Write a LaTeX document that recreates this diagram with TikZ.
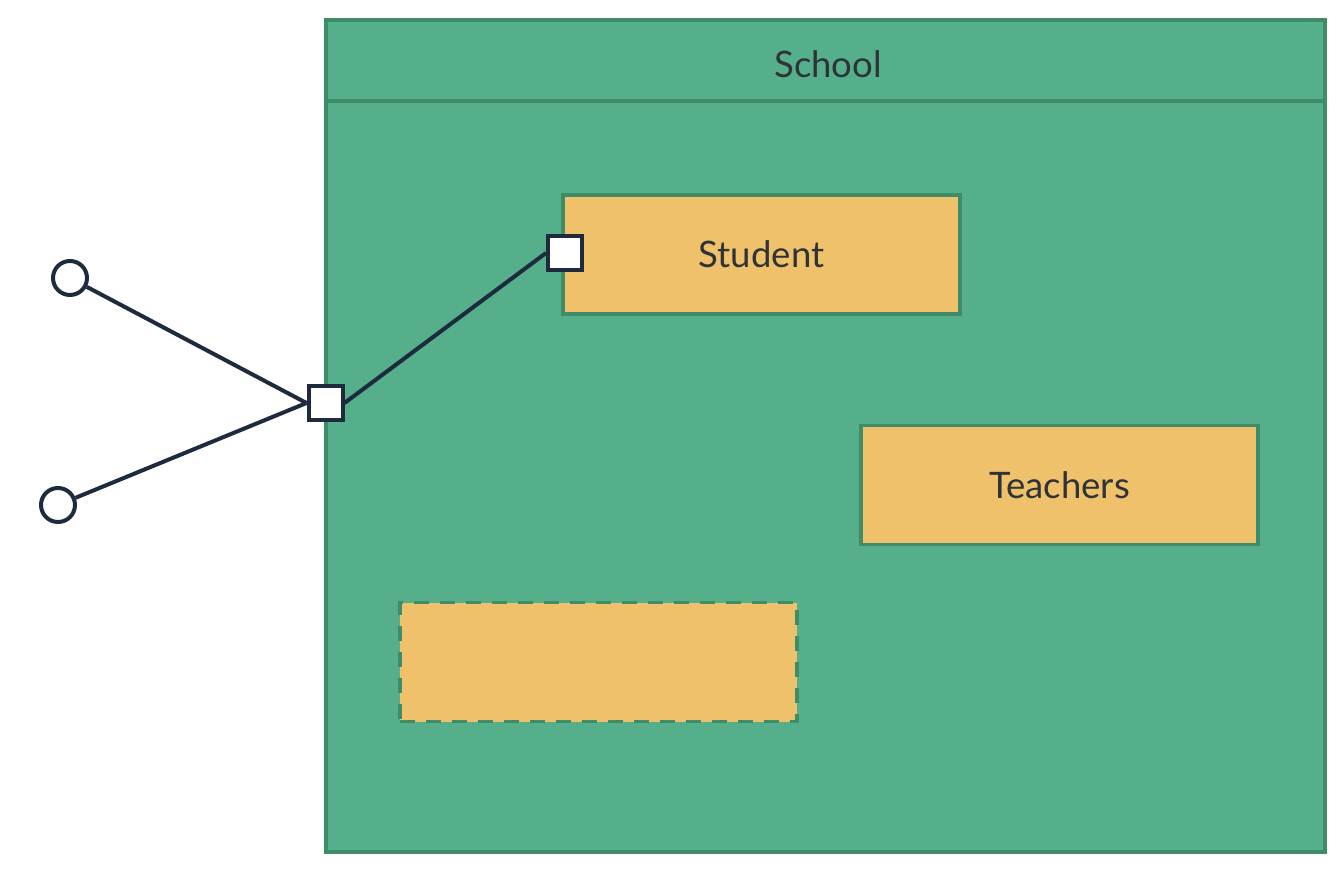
\documentclass[tikz,border=0pt]{standalone}
\usepackage{fontspec}
\setmainfont{Lato}
\begin{document}
\begin{tikzpicture}[x=1pt,y=-1pt,
  greenfill/.style={fill=schoolgreen,draw=bordergreen,line width=3.5pt},
  labelfont/.style={font=\fontsize{36.5}{42}\selectfont,text=textdark},
  classbox/.style={fill=boxorange,draw=bordergreen,line width=3.5pt,minimum width=397pt,minimum height=119pt,inner sep=0pt,labelfont},
  port/.style={fill=white,draw=navy,line width=4pt,minimum size=34pt,inner sep=0pt},
  endcircle/.style={circle,fill=white,draw=navy,line width=4pt,minimum size=34pt,inner sep=0pt},
  wire/.style={draw=navy,line width=4pt}]
\definecolor{schoolgreen}{HTML}{55AF8B}
\definecolor{bordergreen}{HTML}{3F8D66}
\definecolor{boxorange}{HTML}{F0C16B}
\definecolor{navy}{HTML}{1E2A3E}
\definecolor{textdark}{HTML}{2E3338}
\useasboundingbox (0,0) rectangle (1342,870);
% school container
\draw[greenfill] (326,20) rectangle (1325,852);
\draw[draw=bordergreen,line width=3.5pt] (326,101) -- (1325,101);
\node[labelfont] (school) at (828,64) {School};
% classes
\node[classbox] (student) at (761.5,254.5) {Student};
\node[classbox] (teachers) at (1059.5,485) {Teachers};
\node[classbox,dash pattern=on 15pt off 11pt] (empty) at (598.5,662) {};
% ports
\node[port] (p1) at (565,253) {};
\node[port] (p2) at (325.5,403) {};
% ends
\node[endcircle] (c1) at (70,278) {};
\node[endcircle] (c2) at (58,505) {};
% wires
\draw[wire] (c1) -- (p2.west);
\draw[wire] (c2) -- (p2.west);
\draw[wire] (p2.east) -- (p1.west);
\end{tikzpicture}
\end{document}
